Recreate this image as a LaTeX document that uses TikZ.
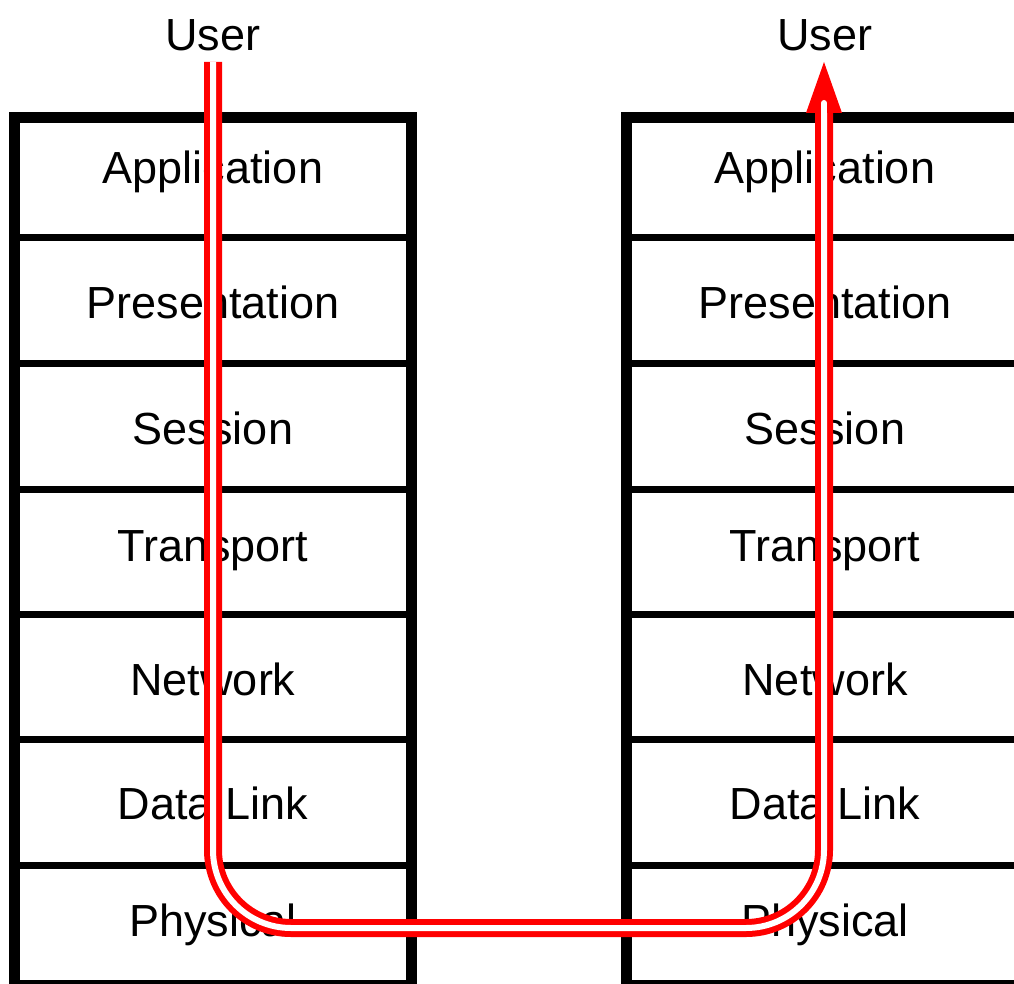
\documentclass[tikz,border=0pt]{standalone}
\usepackage{fontspec}
\setmainfont{Liberation Sans}
\usetikzlibrary{calc}
\begin{document}
\begin{tikzpicture}[x=1pt,y=-1pt,
  frame/.style={draw=black,line width=11pt},
  divider/.style={draw=black,line width=7pt},
  layertext/.style={anchor=base,inner sep=0pt,font=\fontsize{45pt}{54pt}\selectfont},
  wire/.style={draw=red,line width=6pt,double=white,double distance=6pt,rounded corners=78pt},
]
\useasboundingbox (0,0) rectangle (1014,984);
\clip (0,0) rectangle (1014,984);

% protocol stacks: outer frames
\node[frame,rectangle,minimum width=397pt,minimum height=868pt,inner sep=0pt] (stackA) at (213,551.5) {};
\node[frame,rectangle,minimum width=397pt,minimum height=868pt,inner sep=0pt] (stackB) at (825,551.5) {};

% layer separators
\foreach \yy in {238,363.3,489,614.3,739.3,865}{
  \draw[divider] (14.5,\yy) -- (411.5,\yy);
  \draw[divider] (626.5,\yy) -- (1023.5,\yy);
}

% layer names
\foreach \name/\yy/\id in {Application/184/1,Presentation/318/2,Session/444/3,Transport/561/4,Network/695/5,Data Link/819/6,Physical/936/7}{
  \node[layertext] (a\id) at (213,\yy) {\name};
  \node[layertext] (b\id) at (825,\yy) {\name};
}

% end users
\node[layertext] (userA) at (213,51) {User};
\node[layertext] (userB) at (825,51) {User};

% data path down one stack and up the other
\coordinate (src) at (213,62);
\coordinate (turnA) at (213,928);
\coordinate (turnB) at (824,928);
\coordinate (headbase) at (824,113);
\coordinate (dst) at (824,62);
\draw[wire] (src) -- (turnA) -- (turnB) -- (headbase);
\fill[red] (dst) -- ($(headbase)+(-18,0)$) -- ($(headbase)+(18,0)$) -- cycle;
\draw[white,line width=6pt,line cap=round] ($(headbase)+(0,1)$) -- ($(headbase)+(0,-10)$);
\end{tikzpicture}
\end{document}
